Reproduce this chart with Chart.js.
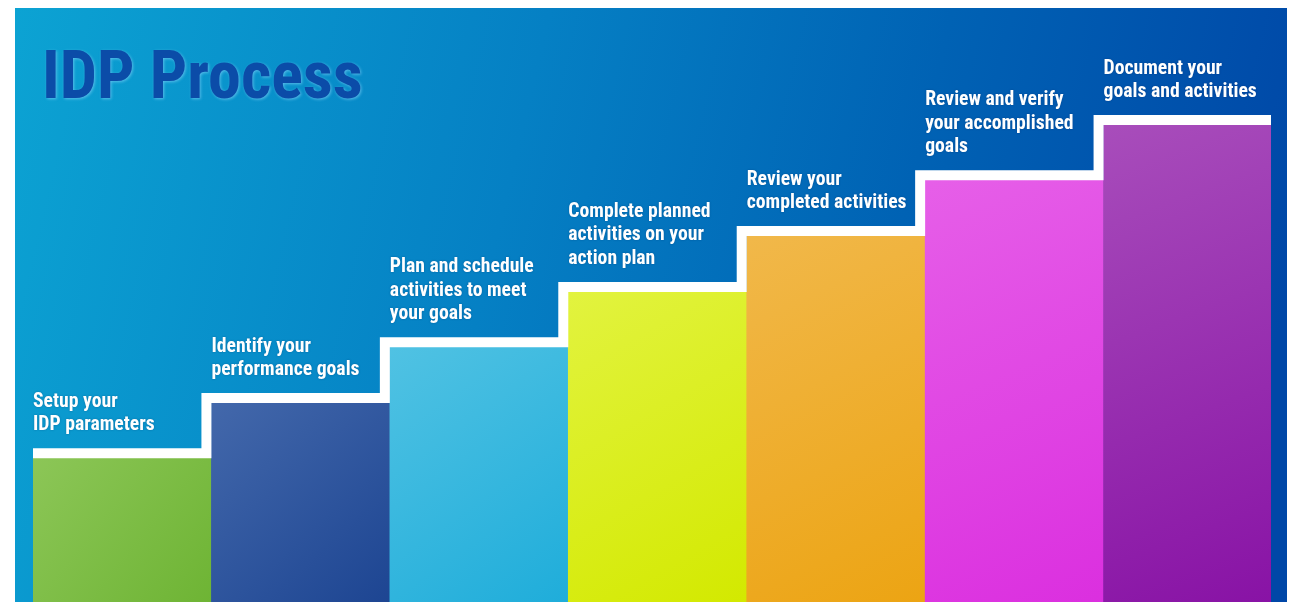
<!DOCTYPE html>
<html>
<head>
<meta charset="utf-8">
<script src="https://cdn.jsdelivr.net/npm/chart.js@4.4.0/dist/chart.umd.min.js"></script>
<style>
  html, body { margin: 0; padding: 0; background: #ffffff; }
  #wrap { width: 1298px; height: 615px; position: relative; }
  canvas { display: block; }
</style>
</head>
<body>
<div id="wrap"><canvas id="c" width="1298" height="615" style="width:1298px;height:615px"></canvas></div>
<script>
// ---- data ----
const titleText = "IDP Process";
const categories = [
  "Setup your IDP parameters",
  "Identify your performance goals",
  "Plan and schedule activities to meet your goals",
  "Complete planned activities on your action plan",
  "Review your completed activities",
  "Review and verify your accomplished goals",
  "Document your goals and activities"
];
const stepLabels = [
  ["Setup your", "IDP parameters"],
  ["Identify your", "performance goals"],
  ["Plan and schedule", "activities to meet", "your goals"],
  ["Complete planned", "activities on your", "action plan"],
  ["Review your", "completed activities"],
  ["Review and verify", "your accomplished", "goals"],
  ["Document your", "goals and activities"]
];
const stepValues = [24.2, 33.5, 42.9, 52.2, 61.6, 71.0, 80.3];
const topColors    = ["#8cc657", "#4368ab", "#50c2e3", "#e2f33f", "#f1b84a", "#e65fe8", "#a84dbb"];
const bottomColors = ["#6eb434", "#1d4592", "#1fadda", "#d3e900", "#eca413", "#db2fdf", "#8812a5"];

// ---- style / layout constants ----
const PANEL = { left: 15, top: 8, right: 1287, bottom: 602 };
const FRAME_RIGHT = 16;      // right inner frame of the panel
const STEP_WIDTH = 10;       // white staircase thickness
const LABEL_FONT = 'bold 19.7px "Liberation Sans Narrow", "Roboto Condensed", "DejaVu Sans Condensed", sans-serif';
const TITLE_FONT = 'bold 66px "Liberation Sans Narrow", "Roboto Condensed", "DejaVu Sans Condensed", sans-serif';
const LABEL_GAP = 28;
const LABEL_LINE = 23.5;

function panelGradient(ctx) {
  const g = ctx.createLinearGradient(PANEL.left, 0, PANEL.right, 300);
  g.addColorStop(0, "#0ca3d3");
  g.addColorStop(0.4, "#0580c4");
  g.addColorStop(0.7, "#0062b4");
  g.addColorStop(1, "#0047a7");
  return g;
}

// bar points (step index on a linear x scale)
const barPoints = stepValues.map((v, i) => ({ x: i, y: v }));
// staircase outline points: left edge of each step, plus the right end
const stairPoints = stepValues.map((v, i) => ({ x: i - 0.5, y: v }));
stairPoints.push({ x: stepValues.length - 0.5, y: stepValues[stepValues.length - 1] });

function barGradient(context) {
  const chart = context.chart;
  const i = context.dataIndex;
  if (!chart.chartArea || i === undefined) return topColors[i || 0];
  const xs = chart.scales.x, ys = chart.scales.y;
  const left = xs.getPixelForValue(i - 0.5);
  const right = xs.getPixelForValue(i + 0.5);
  const top = ys.getPixelForValue(stepValues[i]);
  const bottom = ys.getPixelForValue(0);
  const g = chart.ctx.createLinearGradient(left, top, right, bottom);
  g.addColorStop(0, topColors[i]);
  g.addColorStop(1, bottomColors[i]);
  return g;
}

const panelPlugin = {
  id: "panel",
  beforeDraw(chart) {
    const ctx = chart.ctx;
    ctx.save();
    ctx.fillStyle = panelGradient(ctx);
    ctx.fillRect(PANEL.left, PANEL.top, PANEL.right - PANEL.left, PANEL.bottom - PANEL.top);
    ctx.restore();
  },
  beforeDatasetDraw(chart, args) {
    if (args.meta.type !== "line") return;
    const ctx = chart.ctx, a = chart.chartArea;
    ctx.save();
    ctx.beginPath();
    ctx.rect(a.left, 0, a.right - a.left, chart.height);
    ctx.clip();
    ctx.translate(-STEP_WIDTH / 2, -STEP_WIDTH / 2);
  },
  afterDatasetDraw(chart, args) {
    if (args.meta.type !== "line") return;
    chart.ctx.restore();
  },
  afterDatasetsDraw(chart) {
    const ctx = chart.ctx;
    // right frame of the panel
    ctx.save();
    ctx.beginPath();
    ctx.rect(PANEL.right - FRAME_RIGHT, PANEL.top, FRAME_RIGHT, PANEL.bottom - PANEL.top);
    ctx.clip();
    ctx.fillStyle = panelGradient(ctx);
    ctx.fillRect(PANEL.left, PANEL.top, PANEL.right - PANEL.left, PANEL.bottom - PANEL.top);
    ctx.restore();

    // step labels
    const meta = chart.getDatasetMeta(0);
    ctx.save();
    ctx.font = LABEL_FONT;
    ctx.fillStyle = "#ffffff";
    ctx.textAlign = "left";
    ctx.textBaseline = "alphabetic";
    ctx.shadowColor = "rgba(0,30,80,0.35)";
    ctx.shadowBlur = 2;
    meta.data.forEach((el, i) => {
      const p = el.getProps(["x", "y", "width"], true);
      const left = p.x - p.width / 2;
      const lines = stepLabels[i];
      const n = lines.length;
      lines.forEach((t, j) => {
        ctx.fillText(t, left, p.y - LABEL_GAP - (n - 1 - j) * LABEL_LINE);
      });
    });
    ctx.restore();

    // title
    ctx.save();
    ctx.font = TITLE_FONT;
    ctx.textAlign = "left";
    ctx.textBaseline = "alphabetic";
    ctx.shadowColor = "rgba(120,205,245,0.7)";
    ctx.shadowBlur = 3;
    ctx.shadowOffsetX = 1;
    ctx.shadowOffsetY = 1;
    ctx.fillStyle = "#0b4ca8";
    ctx.fillText(titleText, 42, 98);
    ctx.restore();
  }
};

new Chart(document.getElementById("c"), {
  type: "bar",
  data: {
    labels: categories,
    datasets: [
      {
        type: "bar",
        data: barPoints,
        backgroundColor: barGradient,
        borderWidth: 0,
        barThickness: "flex",
        barPercentage: 1.0,
        categoryPercentage: 1.0,
        order: 2
      },
      {
        type: "line",
        data: stairPoints,
        stepped: true,
        borderColor: "#ffffff",
        borderWidth: STEP_WIDTH,
        borderJoinStyle: "miter",
        borderCapStyle: "butt",
        pointRadius: 0,
        fill: false,
        tension: 0,
        clip: false,
        order: 1
      }
    ]
  },
  options: {
    responsive: false,
    animation: false,
    parsing: true,
    layout: { padding: { left: 33, right: 16, top: 8, bottom: 13 } },
    plugins: { legend: { display: false }, tooltip: { enabled: false }, title: { display: false } },
    scales: {
      x: { type: "linear", display: false, offset: false, min: -0.5, max: stepValues.length - 0.5, grid: { offset: false } },
      y: { display: false, min: 0, max: 100 }
    }
  },
  plugins: [panelPlugin]
});
</script>
</body>
</html>
